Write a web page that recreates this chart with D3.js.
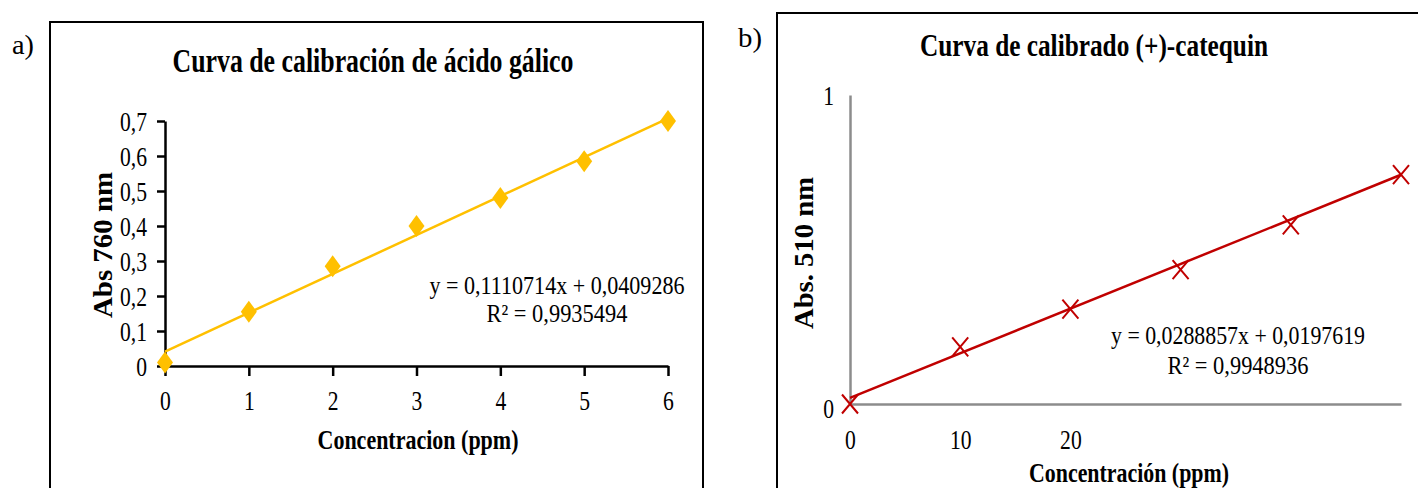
<!DOCTYPE html>
<html>
<head>
<meta charset="utf-8">
<script src="https://cdn.jsdelivr.net/npm/d3@7"></script>
<style>
  body { margin: 0; background: #fff; }
  svg text { font-family: "Liberation Serif", "Times New Roman", serif; fill: #000; }
</style>
</head>
<body>
<svg id="fig" width="1418" height="488"></svg>
<script>
// ---- data ----
// a) gallic acid
var concA = [0, 1, 2, 3, 4, 5, 6];
var absA = [0.01, 0.155, 0.285, 0.40, 0.48, 0.585, 0.70];
var yTicksA = [0, 0.1, 0.2, 0.3, 0.4, 0.5, 0.6, 0.7];
var xTicksA = [0, 1, 2, 3, 4, 5, 6];
var slopeA = 0.1110714, interceptA = 0.0409286;
var eqA = ["y = 0,1110714x + 0,0409286", "R² = 0,9935494"];

// b) catechin
var concB = [0, 5, 10, 15, 20, 25];
var absB = [0.0, 0.185, 0.307, 0.435, 0.58, 0.742];
var yTicksB = [0, 1];
var xTickLabelsB = [0, 10, 20];   // axis labels as printed (axis scale 0-50)
var slopeB = 0.0288857, interceptB = 0.0197619;
var eqB = ["y = 0,0288857x + 0,0197619", "R² = 0,9948936"];

var svg = d3.select("#fig");
var comma = d => String(d).replace(".", ",");

// squeeze text horizontally like the original (narrow Times)
function squeeze(sel, k) {
    sel.each(function () {
        var n = this.getComputedTextLength();
        d3.select(this).attr("textLength", n * k).attr("lengthAdjust", "spacingAndGlyphs");
    });
}
function fit(sel, w) {
    sel.attr("textLength", w).attr("lengthAdjust", "spacingAndGlyphs");
}

// ================= chart a =================
svg.append("text").attr("x", 12).attr("y", 54).style("font-size", "28px").text("a)").call(fit, 22);
svg.append("rect").attr("x", 50).attr("y", 22).attr("width", 653).attr("height", 500)
    .attr("fill", "none").attr("stroke", "#000").attr("stroke-width", 2);

svg.append("text").attr("x", 373).attr("y", 72).attr("text-anchor", "middle")
    .style("font-size", "33px").style("font-weight", "bold")
    .text("Curva de calibración de ácido gálico").call(fit, 401);

var xA = d3.scaleLinear().domain([0, 6]).range([165, 668]);
var yA = d3.scaleLinear().domain([0, 0.7]).range([366, 121]);

var gxA = svg.append("g").attr("transform", "translate(0," + yA(0) + ")")
    .call(d3.axisBottom(xA).tickValues(xTicksA).tickFormat(d => d).tickSize(10).tickSizeOuter(0).tickPadding(15));
var gyA = svg.append("g").attr("transform", "translate(" + xA(0) + ",0)")
    .call(d3.axisLeft(yA).tickValues(yTicksA).tickFormat(comma).tickSize(8).tickSizeOuter(0).tickPadding(10));
[gxA, gyA].forEach(function (g) {
    g.select(".domain").attr("stroke", "#000").attr("stroke-width", 2.5);
    g.selectAll(".tick line").attr("stroke", "#000").attr("stroke-width", 2.5);
    g.selectAll(".tick text").style("font-size", "27px").attr("font-family", null).call(squeeze, 0.8);
});
gyA.selectAll(".tick text").attr("dy", "0.34em");

svg.append("text").attr("x", 418).attr("y", 449).attr("text-anchor", "middle")
    .style("font-size", "27px").style("font-weight", "bold")
    .text("Concentracion (ppm)").call(fit, 201);
svg.append("text").attr("transform", "translate(112,245) rotate(-90)").attr("text-anchor", "middle")
    .style("font-size", "27px").style("font-weight", "bold")
    .text("Abs 760 nm").call(fit, 146);

svg.append("line")
    .attr("x1", xA(0)).attr("y1", yA(interceptA))
    .attr("x2", xA(6)).attr("y2", yA(interceptA + slopeA * 6))
    .attr("stroke", "#FFC000").attr("stroke-width", 2.5);

svg.append("g").selectAll("path").data(concA).join("path")
    .attr("transform", (d, i) => "translate(" + xA(d) + "," + yA(absA[i]) + ")")
    .attr("d", "M0,-11L8,0L0,11L-8,0Z")
    .attr("fill", "#FFC000");

svg.append("g").selectAll("text").data(eqA).join("text")
    .attr("x", 557).attr("y", (d, i) => 294 + i * 28).attr("text-anchor", "middle")
    .style("font-size", "25px").text(d => d)
    .each(function (d, i) { d3.select(this).call(fit, i ? 141 : 255); });

// ================= chart b =================
svg.append("text").attr("x", 738).attr("y", 47).style("font-size", "28px").text("b)").call(fit, 24);
svg.append("rect").attr("x", 777).attr("y", 13).attr("width", 700).attr("height", 500)
    .attr("fill", "none").attr("stroke", "#000").attr("stroke-width", 2);

svg.append("text").attr("x", 1094).attr("y", 56).attr("text-anchor", "middle")
    .style("font-size", "32px").style("font-weight", "bold")
    .text("Curva de calibrado (+)-catequin").call(fit, 348);

var xB = d3.scaleLinear().domain([0, 25]).range([850, 1401]);
var xLabB = d3.scaleLinear().domain([0, 50]).range([850, 1401]);
var yB = d3.scaleLinear().domain([0, 1]).range([404, 95]);

var gxB = svg.append("g").attr("transform", "translate(0," + yB(0) + ")")
    .call(d3.axisBottom(xLabB).tickValues(xTickLabelsB).tickFormat(d => d).tickSize(0).tickSizeOuter(0).tickPadding(26));
var gyB = svg.append("g").attr("transform", "translate(" + xB(0) + ",0)")
    .call(d3.axisLeft(yB).tickValues(yTicksB).tickFormat(d => d).tickSize(0).tickSizeOuter(0).tickPadding(16));
[gxB, gyB].forEach(function (g) {
    g.select(".domain").attr("stroke", "#8c8c8c").attr("stroke-width", 2.5);
    g.selectAll(".tick text").style("font-size", "27px").attr("font-family", null).call(squeeze, 0.8);
});
gyB.selectAll(".tick text").attr("dy", "0.34em");
gyB.selectAll(".tick").filter(d => d === 0).select("text").attr("dy", "0.5em");

svg.append("text").attr("x", 1129).attr("y", 482).attr("text-anchor", "middle")
    .style("font-size", "27px").style("font-weight", "bold")
    .text("Concentración (ppm)").call(fit, 200);
svg.append("text").attr("transform", "translate(813,253) rotate(-90)").attr("text-anchor", "middle")
    .style("font-size", "27px").style("font-weight", "bold")
    .text("Abs. 510 nm").call(fit, 152);

svg.append("line")
    .attr("x1", xB(0)).attr("y1", yB(interceptB))
    .attr("x2", xB(25)).attr("y2", yB(interceptB + slopeB * 25))
    .attr("stroke", "#C00000").attr("stroke-width", 2.5);

svg.append("g").selectAll("path").data(concB).join("path")
    .attr("transform", (d, i) => "translate(" + xB(d) + "," + yB(absB[i]) + ")")
    .attr("d", "M-8,-9.5L8,9.5M-8,9.5L8,-9.5")
    .attr("fill", "none").attr("stroke", "#C00000").attr("stroke-width", 2);

svg.append("g").selectAll("text").data(eqB).join("text")
    .attr("x", 1238).attr("y", (d, i) => 344 + i * 30).attr("text-anchor", "middle")
    .style("font-size", "25px").text(d => d)
    .each(function (d, i) { d3.select(this).call(fit, i ? 141 : 254); });
</script>
</body>
</html>
